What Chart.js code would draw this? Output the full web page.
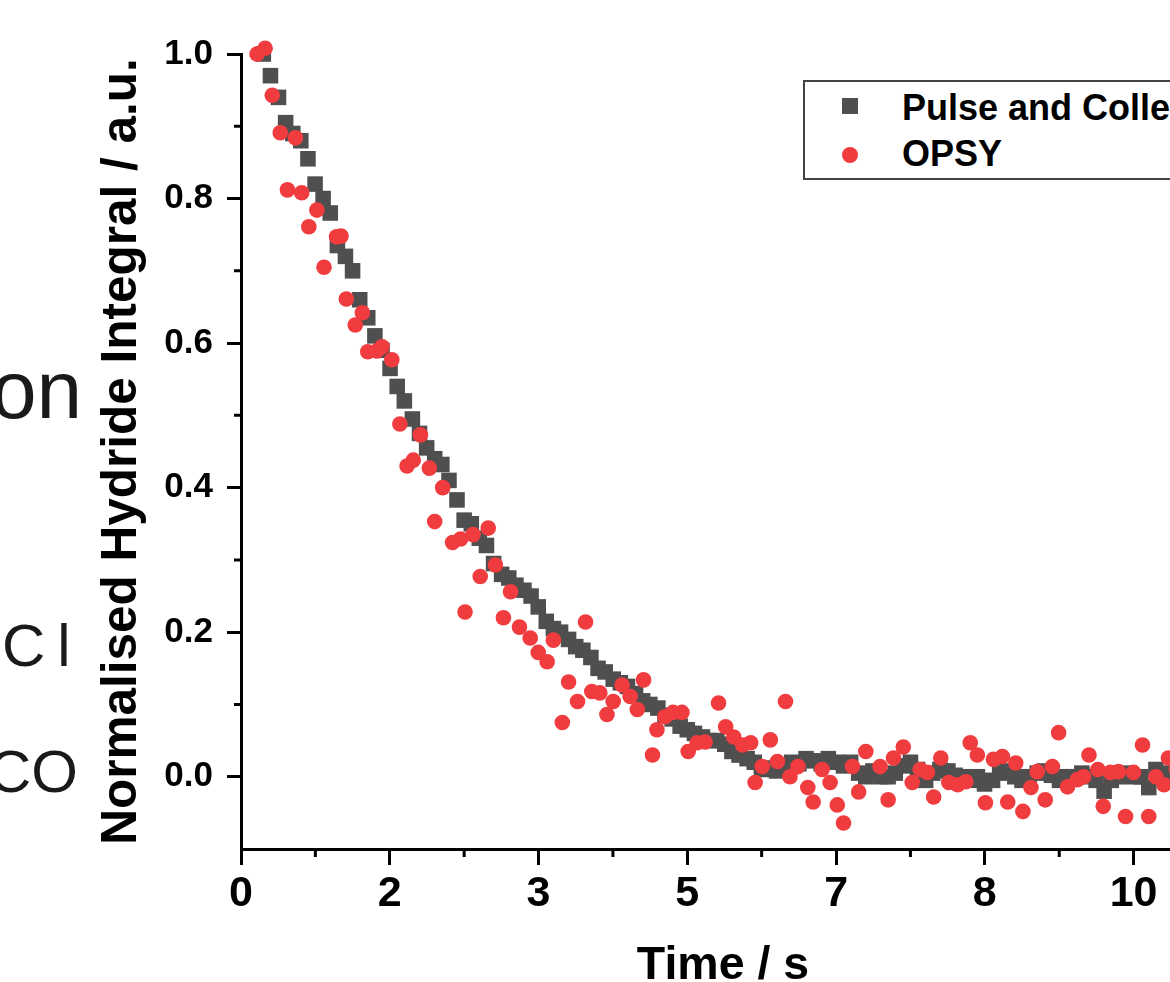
<!DOCTYPE html>
<html>
<head>
<meta charset="utf-8">
<script src="https://cdn.jsdelivr.net/npm/chart.js@4.4.1/dist/chart.umd.min.js"></script>
<style>
  html, body { margin: 0; padding: 0; background: #fff; }
  body { width: 1170px; height: 982px; overflow: hidden; position: relative; }
  #chart { position: absolute; left: 0; top: 0; }
  .slide { position: absolute; font-family: "Liberation Sans", Arial, sans-serif; color: #1a1a1a; line-height: 1; white-space: nowrap; }
  #legend { position: absolute; left: 803px; top: 80px; width: 420px; height: 96px; border: 2px solid #444; background: #fff;
            font-family: "Liberation Sans", Arial, sans-serif; font-weight: bold; font-size: 36px; line-height: 1; color: #000; }
  #legend .mk { position: absolute; width: 16px; height: 16px; }
  #legend .tx { position: absolute; left: 97px; white-space: nowrap; }
</style>
</head>
<body>
<div class="slide" style="font-size:82px; left:-9px; top:349px;">on</div>
<div class="slide" style="font-size:60px; left:2px; top:616px; letter-spacing:12px;">Cl</div>
<div class="slide" style="font-size:60px; left:-12px; top:742px;">CO</div>
<canvas id="chart" width="1230" height="1000"></canvas>
<div id="legend"></div>
<script>
// Pulse and Collect (squares)
const pcTime = [
  0.25,0.33,0.42,0.50,0.58,0.67,0.75,0.83,0.92,1.00,
  1.08,1.17,1.25,1.33,1.42,1.50,1.58,1.67,1.75,1.83,
  1.92,2.00,2.08,2.17,2.25,2.33,2.42,2.50,2.58,2.67,
  2.75,2.83,2.92,3.00,3.08,3.17,3.25,3.33,3.42,3.50,
  3.58,3.67,3.75,3.83,3.92,4.00,4.08,4.17,4.25,4.33,
  4.42,4.50,4.58,4.67,4.75,4.83,4.92,5.00,5.08,5.17,
  5.25,5.33,5.42,5.50,5.58,5.67,5.75,5.83,5.92,6.00,
  6.08,6.17,6.25,6.33,6.42,6.50,6.58,6.67,6.75,6.83,
  6.92,7.00,7.08,7.17,7.25,7.33,7.42,7.50,7.58,7.67,
  7.75,7.83,7.92,8.00,8.08,8.17,8.25,8.33,8.42,8.50,
  8.58,8.67,8.75,8.83,8.92,9.00,9.08,9.17,9.25,9.33,
  9.42,9.50,9.58,9.67,9.75,9.83,9.92,10.00,10.08,10.17,
  10.25,10.33,10.42,10.50,10.58,10.67,10.75
];
const pcValue = [
  1.00,0.97,0.94,0.905,0.89,0.88,0.855,0.82,0.80,0.78,
  0.735,0.72,0.70,0.66,0.635,0.61,0.59,0.565,0.54,0.52,
  0.495,0.475,0.455,0.44,0.432,0.41,0.383,0.355,0.35,0.33,
  0.32,0.295,0.28,0.275,0.265,0.258,0.25,0.235,0.215,0.205,
  0.20,0.19,0.18,0.175,0.165,0.15,0.145,0.135,0.13,0.125,
  0.115,0.105,0.10,0.095,0.085,0.08,0.07,0.065,0.06,0.055,
  0.05,0.05,0.045,0.035,0.03,0.025,0.02,0.01,0.012,0.008,
  0.015,0.02,0.018,0.025,0.022,0.018,0.025,0.02,0.015,0.02,
  0.005,0,0.008,0,0,0.005,0.015,0.02,0.01,-0.005,
  0.005,0.01,0.008,0.002,0,-0.005,0,-0.01,-0.005,0.005,
  0.008,0,-0.005,0,0.005,0.008,0.002,-0.005,0,0,
  0.005,0,-0.005,-0.02,-0.005,0,0.005,0,0,-0.015,
  0.01,0.005,0,-0.005,0,0.005,0
];
// OPSY (circles)
const opsyTime = [
  0.18,0.27,0.35,0.44,0.52,0.61,0.68,0.76,0.85,0.93,
  1.07,1.12,1.18,1.28,1.36,1.42,1.52,1.58,1.69,1.78,
  1.86,1.93,2.01,2.11,2.17,2.26,2.37,2.46,2.51,2.60,
  2.68,2.77,2.85,2.94,3.02,3.12,3.24,3.33,3.43,3.50,
  3.60,3.67,3.77,3.86,3.93,4.02,4.10,4.17,4.27,4.36,
  4.44,4.51,4.61,4.66,4.75,4.84,4.94,5.01,5.11,5.20,
  5.35,5.43,5.52,5.62,5.71,5.76,5.84,5.93,6.01,6.10,
  6.15,6.24,6.35,6.41,6.51,6.60,6.68,6.75,6.85,6.92,
  7.00,7.16,7.25,7.31,7.42,7.52,7.61,7.69,7.76,7.84,
  7.93,8.03,8.12,8.17,8.25,8.34,8.43,8.53,8.59,8.68,
  8.76,8.85,8.92,9.01,9.09,9.16,9.26,9.37,9.44,9.50,
  9.60,9.66,9.74,9.83,9.91,10.00,10.10,10.17,10.25,10.34,
  10.39,10.48,10.58,10.70
];
const opsyValue = [
  1.00,1.008,0.943,0.891,0.812,0.884,0.808,0.761,0.784,0.705,
  0.747,0.748,0.661,0.625,0.642,0.588,0.589,0.595,0.577,0.488,
  0.430,0.438,0.473,0.427,0.353,0.400,0.324,0.329,0.228,0.335,
  0.277,0.344,0.293,0.220,0.256,0.207,0.192,0.172,0.159,0.189,
  0.075,0.131,0.104,0.214,0.118,0.116,0.086,0.104,0.127,0.111,
  0.093,0.134,0.030,0.065,0.083,0.089,0.089,0.035,0.047,0.048,
  0.102,0.069,0.055,0.044,0.047,-0.008,0.014,0.051,0.021,0.104,
  0.000,0.014,-0.015,-0.035,0.010,-0.008,-0.039,-0.064,0.014,-0.021,
  0.035,0.014,-0.032,0.026,0.041,-0.008,0.010,0.006,-0.028,0.026,
  -0.008,-0.011,-0.007,0.047,0.030,-0.036,0.024,0.028,-0.035,0.019,
  -0.048,-0.015,0.007,-0.032,0.014,0.061,-0.014,-0.004,0.000,0.030,
  0.010,-0.041,0.006,0.007,-0.055,0.006,0.044,-0.055,0.000,-0.011,
  0.026,0.010,-0.004,0.017
];

const seriesLabels = ['Pulse and Collect', 'OPSY'];
const seriesColors = ['#4f4f4f', '#f03c3e'];

const xTickValues = [0, 1.667, 3.333, 5, 6.667, 8.333, 10];
const xTickLabels = ['0', '2', '3', '5', '7', '8', '10'];
const xMinorValues = [0.833, 2.5, 4.167, 5.833, 7.5, 9.167];
const yTickValues = [0, 0.2, 0.4, 0.6, 0.8, 1.0];
const yMinorValues = [0.1, 0.3, 0.5, 0.7, 0.9];

Chart.defaults.font.family = '"Liberation Sans", Arial, sans-serif';
Chart.defaults.color = '#000';

const toPoints = (xs, ys) => xs.map((x, i) => ({x: x, y: ys[i]}));

// short minor tick marks drawn from the scales
const minorTicks = {
  id: 'minorTicks',
  afterDraw(chart) {
    const {ctx, chartArea, scales: {x, y}} = chart;
    ctx.save();
    ctx.strokeStyle = '#000';
    ctx.lineWidth = 3;
    ctx.beginPath();
    xMinorValues.forEach(v => {
      const px = x.getPixelForValue(v);
      ctx.moveTo(px, chartArea.bottom); ctx.lineTo(px, chartArea.bottom + 8);
    });
    yMinorValues.forEach(v => {
      const py = y.getPixelForValue(v);
      ctx.moveTo(chartArea.left - 7, py); ctx.lineTo(chartArea.left, py);
    });
    ctx.stroke();
    ctx.restore();
  }
};

const chart = new Chart(document.getElementById('chart'), {
  type: 'scatter',
  data: {
    datasets: [
      { label: seriesLabels[0], data: toPoints(pcTime, pcValue), pointStyle: 'rect', pointRadius: 11,
        backgroundColor: seriesColors[0], borderWidth: 0, order: 2, clip: false },
      { label: seriesLabels[1], data: toPoints(opsyTime, opsyValue), pointStyle: 'circle', pointRadius: 7.8,
        backgroundColor: seriesColors[1], borderWidth: 0, order: 1, clip: false }
    ]
  },
  options: {
    responsive: false,
    animation: false,
    devicePixelRatio: 1,
    layout: { padding: { left: 89, top: 54, right: 25, bottom: 6 } },
    plugins: { legend: { display: false }, tooltip: { enabled: false } },
    scales: {
      x: {
        type: 'linear', min: 0, max: 10.8,
        afterBuildTicks: s => { s.ticks = xTickValues.map(v => ({value: v})); },
        afterFit: s => { s.height = 145; },
        ticks: { callback: (v, i) => xTickLabels[i], autoSkip: false, maxRotation: 0, padding: 3,
                 font: { size: 43, weight: 'bold' }, color: '#000' },
        grid: { drawOnChartArea: false, tickLength: 16, tickWidth: 3, tickColor: '#000' },
        border: { color: '#000', width: 3 },
        title: { display: true, text: 'Time / s', color: '#000', padding: 0,
                 font: { size: 46.5, weight: 'bold' } }
      },
      y: {
        type: 'linear', min: -0.1, max: 1.0,
        afterBuildTicks: s => { s.ticks = yTickValues.map(v => ({value: v})); },
        afterFit: s => { s.width = 152; },
        ticks: { callback: v => v.toFixed(1), padding: 14, font: { size: 35, weight: 'bold' }, color: '#000' },
        grid: { drawOnChartArea: false, tickLength: 14, tickWidth: 3, tickColor: '#000' },
        border: { color: '#000', width: 3 },
        title: { display: true, text: 'Normalised Hydride Integral / a.u.', color: '#000',
                 padding: { top: 4, bottom: 0 }, font: { size: 49.5, weight: 'bold' } }
      }
    }
  },
  plugins: [minorTicks]
});

// legend box built from the chart's datasets
const legend = document.getElementById('legend');
const rowTops = [8, 54];
const markTops = [16, 65];
chart.data.datasets.forEach((ds, i) => {
  const mk = document.createElement('div');
  mk.className = 'mk';
  mk.style.left = '37px';
  mk.style.top = markTops[i] + 'px';
  mk.style.background = ds.backgroundColor;
  if (ds.pointStyle === 'circle') mk.style.borderRadius = '50%';
  legend.appendChild(mk);
  const tx = document.createElement('div');
  tx.className = 'tx';
  tx.style.top = rowTops[i] + 'px';
  tx.textContent = ds.label;
  legend.appendChild(tx);
});
</script>
</body>
</html>
